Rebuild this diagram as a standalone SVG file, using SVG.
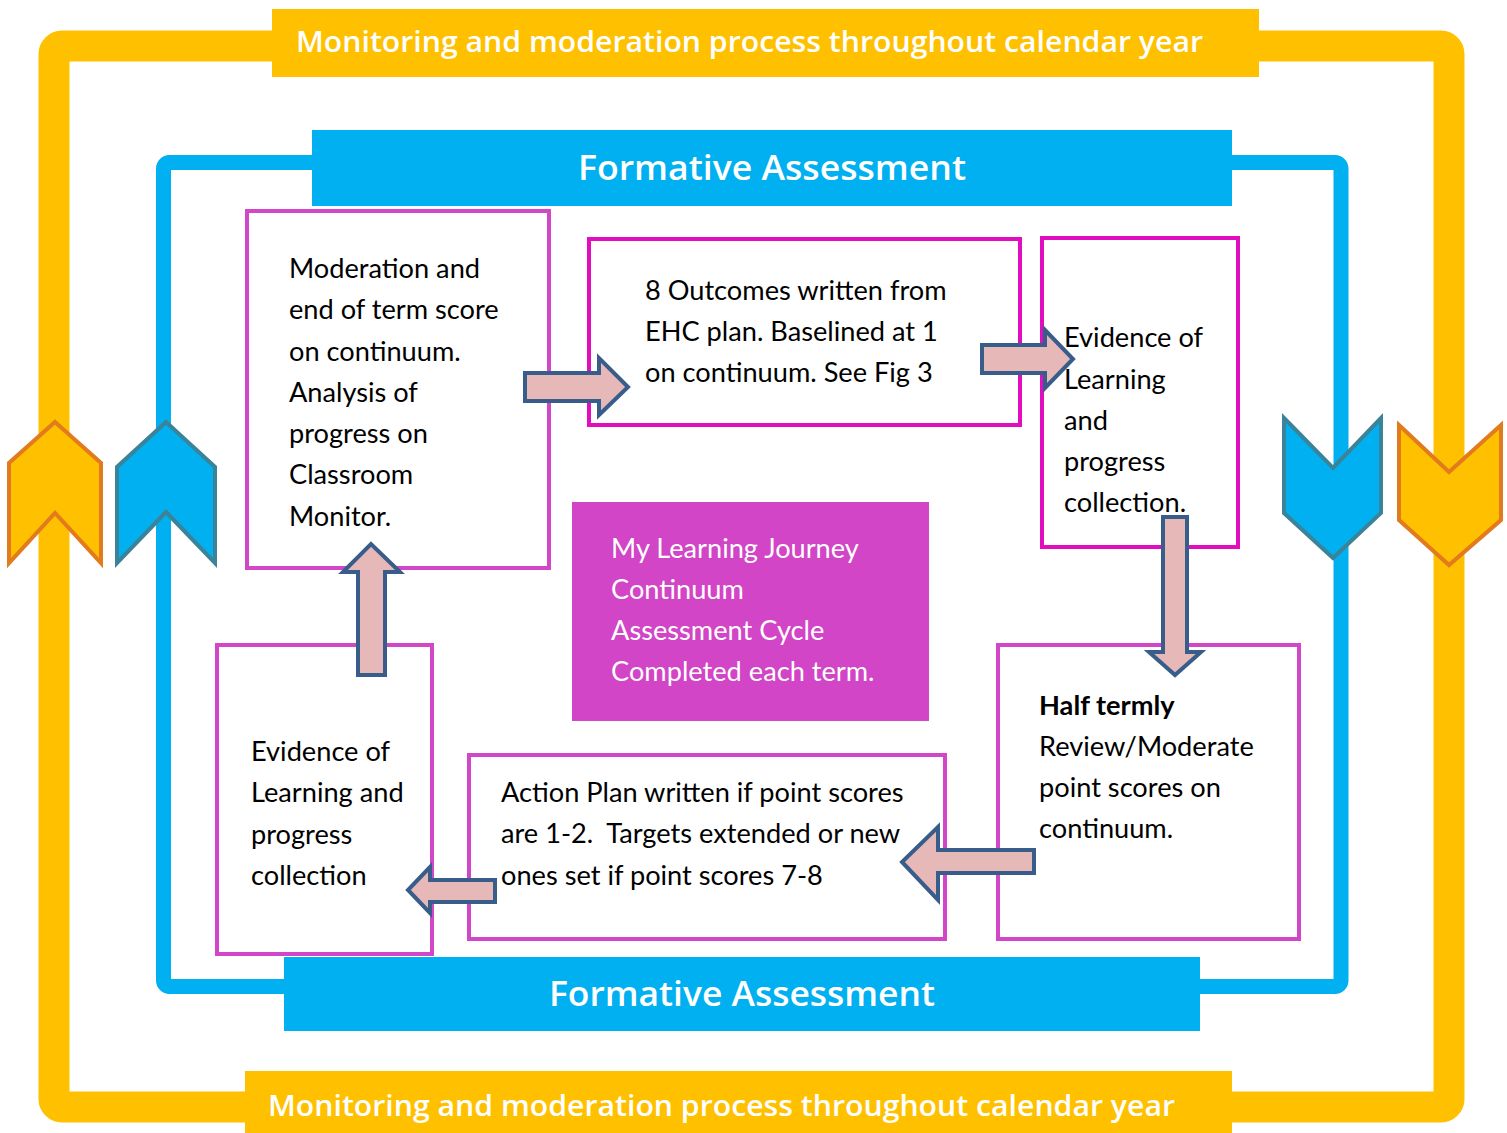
<svg xmlns="http://www.w3.org/2000/svg" width="1507" height="1133" viewBox="0 0 1507 1133">
  <style>
    .frame-o { fill: none; stroke: #FFC000; stroke-width: 31; }
    .frame-b { fill: none; stroke: #00B0F0; stroke-width: 15; }
    .banner-o { fill: #FFC000; }
    .banner-b { fill: #00B0F0; }
    .banner-txt { font-family: "Open Sans", "DejaVu Sans", sans-serif; font-weight: 600; fill: #FFFFFF; }
    .box { fill: #FFFFFF; stroke: #D247C8; stroke-width: 4; }
    .box-hot { fill: #FFFFFF; stroke: #E10EC0; stroke-width: 4; }
    .txt { font-family: Lato, "Liberation Sans", sans-serif; font-size: 27.2px; fill: #000000; }
    .txt-w { font-family: Lato, "Liberation Sans", sans-serif; font-size: 27.2px; fill: #FFFFFF; }
    .arrow { fill: #E6B8B7; stroke: #385D8A; stroke-width: 4; stroke-linejoin: miter; }
    .chev-o { fill: #FFC000; stroke: #E27A1E; stroke-width: 4; }
    .chev-b { fill: #00B0F0; stroke: #3A8399; stroke-width: 4; }
  </style>

  <rect width="1507" height="1133" fill="#FFFFFF"/>

  <!-- outer yearly frame -->
  <g id="outer-frame">
    <rect class="frame-o" x="54" y="46" width="1395" height="1061" rx="8"/>
    <rect class="banner-o" x="272" y="9" width="987" height="68"/>
    <rect class="banner-o" x="245" y="1071" width="987" height="62"/>
    <text class="banner-txt" x="296" y="52" font-size="29" textLength="907" lengthAdjust="spacingAndGlyphs">Monitoring and moderation process throughout calendar year</text>
    <text class="banner-txt" x="268" y="1116" font-size="29" textLength="907" lengthAdjust="spacingAndGlyphs">Monitoring and moderation process throughout calendar year</text>
    <polygon class="chev-o" points="55,422 101,463 101,563 55,513 9,563 9,463"/>
    <polygon class="chev-o" points="1399,425 1449,472 1501,425 1501,520 1449,565 1399,520"/>
  </g>

  <!-- formative assessment frame -->
  <g id="inner-frame">
    <rect class="frame-b" x="163.5" y="162.5" width="1177.5" height="824" rx="6"/>
    <rect class="banner-b" x="312" y="130" width="920" height="76"/>
    <rect class="banner-b" x="284" y="957" width="916" height="74"/>
    <text class="banner-txt" x="578" y="180" font-size="34" textLength="388" lengthAdjust="spacingAndGlyphs">Formative Assessment</text>
    <text class="banner-txt" x="549" y="1006" font-size="34" textLength="386" lengthAdjust="spacingAndGlyphs">Formative Assessment</text>
    <polygon class="chev-b" points="166,422 215,467 215,563 166,512 117,563 117,467"/>
    <polygon class="chev-b" points="1284,418 1333,468 1381,418 1381,513 1333,558 1284,513"/>
  </g>

  <!-- cycle steps -->
  <g id="node-moderation">
    <rect class="box" x="247" y="211" width="302" height="357"/>
    <text class="txt">
      <tspan x="289" y="278">Moderation and</tspan>
      <tspan x="289" y="319">end of term score</tspan>
      <tspan x="289" y="361">on continuum.</tspan>
      <tspan x="289" y="402">Analysis of</tspan>
      <tspan x="289" y="443">progress on</tspan>
      <tspan x="289" y="484">Classroom</tspan>
      <tspan x="289" y="526">Monitor.</tspan>
    </text>
  </g>

  <g id="node-outcomes">
    <rect class="box-hot" x="589" y="239" width="431" height="186"/>
    <text class="txt">
      <tspan x="645" y="300">8 Outcomes written from</tspan>
      <tspan x="645" y="341">EHC plan. Baselined at 1</tspan>
      <tspan x="645" y="382">on continuum. See Fig 3</tspan>
    </text>
  </g>

  <g id="node-evidence-right">
    <rect class="box-hot" x="1042" y="238" width="196" height="309" stroke-width="3"/>
    <text class="txt">
      <tspan x="1064" y="347">Evidence of</tspan>
      <tspan x="1064" y="389">Learning</tspan>
      <tspan x="1064" y="430">and</tspan>
      <tspan x="1064" y="471">progress</tspan>
      <tspan x="1064" y="512">collection.</tspan>
    </text>
  </g>

  <g id="node-journey">
    <rect x="572" y="502" width="357" height="219" fill="#D145C6"/>
    <text class="txt-w">
      <tspan x="611" y="558">My Learning Journey</tspan>
      <tspan x="611" y="599">Continuum</tspan>
      <tspan x="611" y="640">Assessment Cycle</tspan>
      <tspan x="611" y="681">Completed each term.</tspan>
    </text>
  </g>

  <g id="node-half-termly">
    <rect class="box" x="998" y="645" width="301" height="294"/>
    <text class="txt">
      <tspan x="1039" y="715" font-weight="bold">Half termly</tspan>
      <tspan x="1039" y="756">Review/Moderate</tspan>
      <tspan x="1039" y="797">point scores on</tspan>
      <tspan x="1039" y="838">continuum.</tspan>
    </text>
  </g>

  <g id="node-action-plan">
    <rect class="box" x="469" y="755" width="476" height="184"/>
    <text class="txt">
      <tspan x="501" y="802">Action Plan written if point scores</tspan>
      <tspan x="501" y="843">are 1-2.&#160; Targets extended or new</tspan>
      <tspan x="501" y="885">ones set if point scores 7-8</tspan>
    </text>
  </g>

  <g id="node-evidence-left">
    <rect class="box" x="217" y="645" width="215" height="309"/>
    <text class="txt">
      <tspan x="251" y="761">Evidence of</tspan>
      <tspan x="251" y="802">Learning and</tspan>
      <tspan x="251" y="844">progress</tspan>
      <tspan x="251" y="885">collection</tspan>
    </text>
  </g>

  <!-- block arrows between steps -->
  <g id="connectors">
    <polygon class="arrow" points="525,373 599,373 599,358 628,387 599,415 599,401 525,401"/>
    <polygon class="arrow" points="982,345 1045,345 1045,330 1073,359 1045,388 1045,373 982,373"/>
    <polygon class="arrow" points="1163,517 1187,517 1187,652 1201,652 1175,675 1149,652 1163,652"/>
    <polygon class="arrow" points="1034,850 938,850 938,827 902,862 938,900 938,873 1034,873"/>
    <polygon class="arrow" points="495,880 430,880 430,867 408,890 430,913 430,902 495,902"/>
    <polygon class="arrow" points="358,675 358,572 343,572 371,544 400,572 385,572 385,675"/>
  </g>
</svg>
